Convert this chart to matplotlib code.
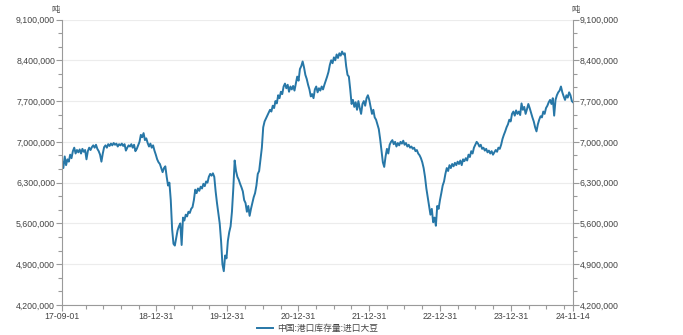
import numpy as np
import pandas as pd
import matplotlib
matplotlib.use('Agg')
import matplotlib.pyplot as plt
from matplotlib.ticker import FuncFormatter, MultipleLocator

plt.rcParams['font.family'] = ['Liberation Sans', 'Noto Sans CJK SC', 'DejaVu Sans']

# weekly readings (10k tonnes), 2017-09-01 .. 2024-11-08, then 2024-11-14
stock_10kt = [
    668, 655, 675, 660, 670, 666, 678, 672, 684, 690,
    680, 686, 682, 687, 680, 688, 683, 686, 670, 684,
    690, 686, 691, 694, 690, 695, 688, 684, 678, 666,
    680, 691, 694, 690, 696, 693, 697, 694, 698, 695,
    697, 692, 696, 694, 697, 693, 696, 685, 690, 694,
    692, 696, 690, 695, 684, 688, 694, 700, 712, 708,
    715, 703, 706, 698, 692, 697, 690, 694, 685, 678,
    670, 665, 662, 655, 648, 655, 658, 640, 625, 630,
    600, 550, 525, 522, 535, 548, 555, 560, 523, 570,
    565, 575, 572, 580, 578, 585, 588, 600, 618, 612,
    620, 616, 623, 620, 628, 624, 632, 630, 640, 645,
    642, 646, 640, 615, 595, 578, 560, 530, 490, 478,
    505, 500, 530, 545, 555, 580, 620, 668, 650, 640,
    635, 628, 622, 615, 600, 595, 580, 590, 573, 585,
    595, 605, 612, 625, 645, 650, 670, 690, 725, 735,
    740, 745, 750, 755, 752, 762, 758, 770, 766, 780,
    775, 786, 782, 795, 800, 792, 798, 786, 795, 790,
    796, 788, 800, 812, 805, 825, 830, 838, 828, 815,
    808, 798, 790, 778, 782, 775, 790, 795, 785, 792,
    788, 795, 790, 798, 805, 812, 820, 832, 840, 835,
    845, 840, 850, 844, 852, 848, 855, 850, 852, 830,
    815, 812, 790, 765, 772, 760, 768, 755, 770, 758,
    748, 765, 770, 762, 775, 780, 772, 760, 748, 755,
    742, 738, 730, 722, 705, 685, 665, 657, 675, 688,
    680, 695, 700, 703, 696, 700, 692, 698, 694, 700,
    697, 702, 695, 698, 692, 695, 690, 692, 688, 690,
    684, 686, 680, 677, 672, 665, 655, 640, 620, 605,
    590, 575, 585, 562, 570, 556, 590, 585, 600, 612,
    625, 632, 645, 655, 650, 660, 655, 662, 658, 664,
    660, 666, 662, 668, 660, 670, 667, 672, 668, 678,
    674, 684, 680, 690, 695, 700, 697, 692, 695, 688,
    690, 685, 688, 682, 685, 680, 684, 678, 682, 686,
    683, 690, 688, 695, 705, 712, 718, 725, 730, 738,
    735, 748, 752, 745, 754, 748, 752, 746, 766, 755,
    760, 748, 756, 765, 758, 750, 742, 735, 725, 718,
    730, 738, 744, 742, 752, 748, 758, 762, 768, 772,
    765, 775, 745, 772, 780, 785, 788, 795, 785, 778,
    772, 780, 776, 785, 780, 770, 768,
]
dates = list(pd.date_range('2017-09-01', periods=376, freq='7D')) + [pd.Timestamp('2024-11-14')]
stock = np.array(stock_10kt) * 10000

tick_dates = ['2017-09-01', '2018-12-31', '2019-12-31', '2020-12-31',
              '2021-12-31', '2022-12-31', '2023-12-31', '2024-11-14']
series_name = '中国:港口库存量:进口大豆'

line_color = '#2777a7'
axis_color = '#9a9a9a'
text_color = '#444444'

fig = plt.figure(figsize=(6.83, 3.35), dpi=100)
ax = fig.add_axes([62 / 683, 1 - 305 / 335, (573 - 62) / 683, (305 - 19.5) / 335])
ax.plot(dates, stock, color=line_color, linewidth=1.4, label=series_name)

ax.set_xlim(pd.Timestamp(tick_dates[0]), pd.Timestamp(tick_dates[-1]))
ax.set_ylim(4200000, 9100000)
ax.yaxis.set_major_locator(MultipleLocator(700000))
ax.yaxis.set_minor_locator(MultipleLocator(700000 / 3))
ax.yaxis.set_major_formatter(FuncFormatter(lambda v, p: f'{v:,.0f}'))

ax.set_xticks([pd.Timestamp(d) for d in tick_dates])
ax.set_xticklabels([pd.Timestamp(d).strftime('%y-%m-%d') for d in tick_dates])
ax.set_xticks(list(pd.date_range('2017-12-31', '2024-09-30', freq='QE')), minor=True)

ax.grid(axis='y', color='#ececec', linewidth=0.8)
ax.set_axisbelow(True)

ax.tick_params(axis='both', which='both', direction='out', color=axis_color,
               labelsize=6.3, labelcolor=text_color, width=0.8)
ax.tick_params(axis='both', which='major', length=4, pad=1)
ax.tick_params(axis='both', which='minor', length=3)
ax.tick_params(axis='y', which='both', right=True, labelright=True)
ax.tick_params(axis='x', pad=1)

ax.spines['top'].set_visible(False)
for s in ['left', 'right', 'bottom']:
    ax.spines[s].set_color(axis_color)
    ax.spines[s].set_linewidth(0.8)

fig.text(60 / 683, 1 - 10 / 335, '吨', fontsize=6, color=text_color, ha='right', va='center')
fig.text(571 / 683, 1 - 10 / 335, '吨', fontsize=6, color=text_color, ha='left', va='center')

fig.legend(loc='lower center', bbox_to_anchor=(318 / 683, 0.0), frameon=False,
           fontsize=6.3, handlelength=1.8, handletextpad=0.5, labelcolor=text_color,
           borderpad=0.1, borderaxespad=0.1)

fig.savefig('out.png', dpi=100, facecolor='white')
